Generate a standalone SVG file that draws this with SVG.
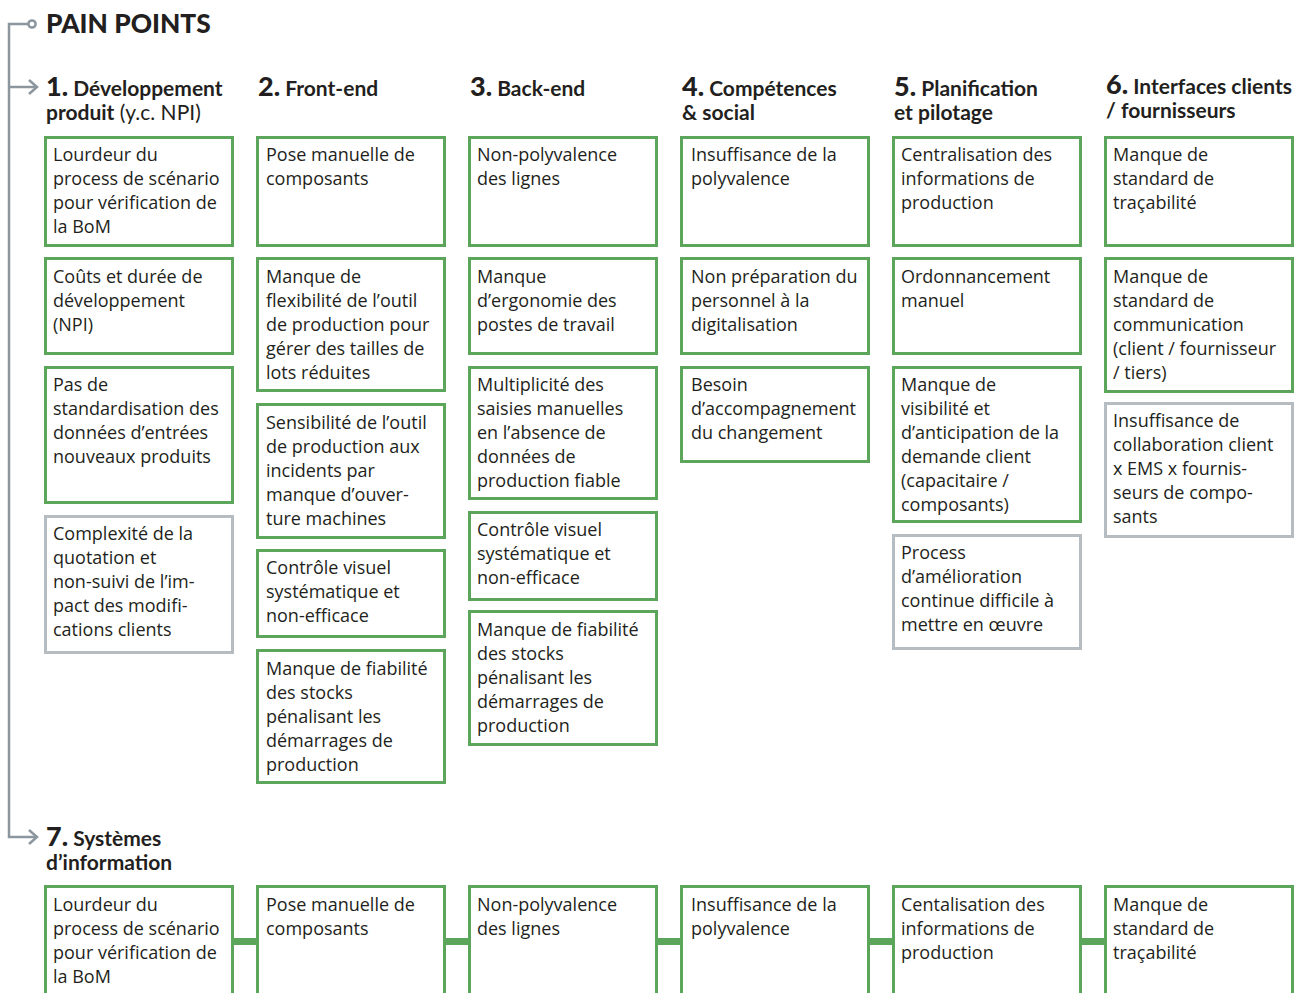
<svg xmlns="http://www.w3.org/2000/svg" width="1310" height="993" viewBox="0 0 1310 993">
<style>
.bg{fill:#ffffff}
.g{fill:#ffffff;stroke:#5ba65b;stroke-width:3}
.s{fill:#ffffff;stroke:#b5bcc2;stroke-width:3}
.t{font-family:"Open Sans","Noto Sans",sans-serif;font-size:18px;fill:#231f20}
.h{font-family:Lato,"Noto Sans",sans-serif;font-size:21px;font-weight:bold;fill:#231f20}
.n{font-size:27px;font-weight:900}
.r{font-weight:normal}
.ttl{font-family:Lato,"Noto Sans",sans-serif;font-size:26.3px;font-weight:900;fill:#231f20}
.ln{fill:none;stroke:#8c969e;stroke-width:2.5}
.bar{fill:#5ba65b}
</style>
<rect class="bg" x="0" y="0" width="1310" height="993"/>
<g id="tree">
<path class="ln" d="M28.5,24 H9 V837 H36"/>
<path class="ln" d="M9,87 H36"/>
<path class="ln" d="M29,80 L37,87 L29,94"/>
<path class="ln" d="M29,830 L37,837 L29,844"/>
<circle class="ln" cx="32" cy="24" r="3.6" fill="#fff"/>
</g>
<g id="title"><text class="ttl" x="46" y="33">PAIN POINTS</text></g>
<g id="headings">
<text class="h" x="46" y="96"><tspan class="n">1.</tspan> Développement</text>
<text class="h" x="46" y="120">produit<tspan class="r"> (y.c. NPI)</tspan></text>
<text class="h" x="258" y="96"><tspan class="n">2.</tspan> Front-end</text>
<text class="h" x="470" y="96"><tspan class="n">3.</tspan> Back-end</text>
<text class="h" x="682" y="96"><tspan class="n">4.</tspan> Compétences</text>
<text class="h" x="682" y="120">&amp; social</text>
<text class="h" x="894" y="96"><tspan class="n">5.</tspan> Planification</text>
<text class="h" x="894" y="120">et pilotage</text>
<text class="h" x="1106" y="94"><tspan class="n">6.</tspan> Interfaces clients</text>
<text class="h" x="1106" y="118">/ fournisseurs</text>
<text class="h" x="46" y="846"><tspan class="n">7.</tspan> Systèmes</text>
<text class="h" x="46" y="870">d’information</text>
</g>
<g id="connectors">
<rect class="bar" x="233" y="938" width="24" height="7"/>
<rect class="bar" x="445" y="938" width="24" height="7"/>
<rect class="bar" x="657" y="938" width="24" height="7"/>
<rect class="bar" x="869" y="938" width="24" height="7"/>
<rect class="bar" x="1081" y="938" width="24" height="7"/>
</g>
<!-- Column 1 -->
<g id="c1a"><rect class="g" x="45.5" y="137.5" width="187" height="108"/><text class="t" x="53" y="161"><tspan x="53">Lourdeur du</tspan><tspan x="53" dy="24">process de scénario</tspan><tspan x="53" dy="24">pour vérification de</tspan><tspan x="53" dy="24">la BoM</tspan></text></g>
<g id="c1b"><rect class="g" x="45.5" y="258.5" width="187" height="95"/><text class="t" x="53" y="283"><tspan x="53">Coûts et durée de</tspan><tspan x="53" dy="24">développement</tspan><tspan x="53" dy="24">(NPI)</tspan></text></g>
<g id="c1c"><rect class="g" x="45.5" y="367.5" width="187" height="135"/><text class="t" x="53" y="391"><tspan x="53">Pas de</tspan><tspan x="53" dy="24">standardisation des</tspan><tspan x="53" dy="24">données d’entrées</tspan><tspan x="53" dy="24">nouveaux produits</tspan></text></g>
<g id="c1d"><rect class="s" x="45.5" y="516.5" width="187" height="136"/><text class="t" x="53" y="540"><tspan x="53">Complexité de la</tspan><tspan x="53" dy="24">quotation et</tspan><tspan x="53" dy="24">non-suivi de l’im-</tspan><tspan x="53" dy="24">pact des modifi-</tspan><tspan x="53" dy="24">cations clients</tspan></text></g>
<!-- Column 2 -->
<g id="c2a"><rect class="g" x="257.5" y="137.5" width="187" height="108"/><text class="t" x="266" y="161"><tspan x="266">Pose manuelle de</tspan><tspan x="266" dy="24">composants</tspan></text></g>
<g id="c2b"><rect class="g" x="257.5" y="258.5" width="187" height="132"/><text class="t" x="266" y="283"><tspan x="266">Manque de</tspan><tspan x="266" dy="24">flexibilité de l’outil</tspan><tspan x="266" dy="24">de production pour</tspan><tspan x="266" dy="24">gérer des tailles de</tspan><tspan x="266" dy="24">lots réduites</tspan></text></g>
<g id="c2c"><rect class="g" x="257.5" y="404.5" width="187" height="133"/><text class="t" x="266" y="429"><tspan x="266">Sensibilité de l’outil</tspan><tspan x="266" dy="24">de production aux</tspan><tspan x="266" dy="24">incidents par</tspan><tspan x="266" dy="24">manque d’ouver-</tspan><tspan x="266" dy="24">ture machines</tspan></text></g>
<g id="c2d"><rect class="g" x="257.5" y="550.5" width="187" height="86"/><text class="t" x="266" y="574"><tspan x="266">Contrôle visuel</tspan><tspan x="266" dy="24">systématique et</tspan><tspan x="266" dy="24">non-efficace</tspan></text></g>
<g id="c2e"><rect class="g" x="257.5" y="650.5" width="187" height="132"/><text class="t" x="266" y="675"><tspan x="266">Manque de fiabilité</tspan><tspan x="266" dy="24">des stocks</tspan><tspan x="266" dy="24">pénalisant les</tspan><tspan x="266" dy="24">démarrages de</tspan><tspan x="266" dy="24">production</tspan></text></g>
<!-- Column 3 -->
<g id="c3a"><rect class="g" x="469.5" y="137.5" width="187" height="108"/><text class="t" x="477" y="161"><tspan x="477">Non-polyvalence</tspan><tspan x="477" dy="24">des lignes</tspan></text></g>
<g id="c3b"><rect class="g" x="469.5" y="258.5" width="187" height="95"/><text class="t" x="477" y="283"><tspan x="477">Manque</tspan><tspan x="477" dy="24">d’ergonomie des</tspan><tspan x="477" dy="24">postes de travail</tspan></text></g>
<g id="c3c"><rect class="g" x="469.5" y="367.5" width="187" height="131"/><text class="t" x="477" y="391"><tspan x="477">Multiplicité des</tspan><tspan x="477" dy="24">saisies manuelles</tspan><tspan x="477" dy="24">en l’absence de</tspan><tspan x="477" dy="24">données de</tspan><tspan x="477" dy="24">production fiable</tspan></text></g>
<g id="c3d"><rect class="g" x="469.5" y="512.5" width="187" height="87"/><text class="t" x="477" y="536"><tspan x="477">Contrôle visuel</tspan><tspan x="477" dy="24">systématique et</tspan><tspan x="477" dy="24">non-efficace</tspan></text></g>
<g id="c3e"><rect class="g" x="469.5" y="611.5" width="187" height="133"/><text class="t" x="477" y="636"><tspan x="477">Manque de fiabilité</tspan><tspan x="477" dy="24">des stocks</tspan><tspan x="477" dy="24">pénalisant les</tspan><tspan x="477" dy="24">démarrages de</tspan><tspan x="477" dy="24">production</tspan></text></g>
<!-- Column 4 -->
<g id="c4a"><rect class="g" x="681.5" y="137.5" width="187" height="108"/><text class="t" x="691" y="161"><tspan x="691">Insuffisance de la</tspan><tspan x="691" dy="24">polyvalence</tspan></text></g>
<g id="c4b"><rect class="g" x="681.5" y="258.5" width="187" height="95"/><text class="t" x="691" y="283"><tspan x="691">Non préparation du</tspan><tspan x="691" dy="24">personnel à la</tspan><tspan x="691" dy="24">digitalisation</tspan></text></g>
<g id="c4c"><rect class="g" x="681.5" y="367.5" width="187" height="94"/><text class="t" x="691" y="391"><tspan x="691">Besoin</tspan><tspan x="691" dy="24">d’accompagnement</tspan><tspan x="691" dy="24">du changement</tspan></text></g>
<!-- Column 5 -->
<g id="c5a"><rect class="g" x="893.5" y="137.5" width="187" height="108"/><text class="t" x="901" y="161"><tspan x="901">Centralisation des</tspan><tspan x="901" dy="24">informations de</tspan><tspan x="901" dy="24">production</tspan></text></g>
<g id="c5b"><rect class="g" x="893.5" y="258.5" width="187" height="95"/><text class="t" x="901" y="283"><tspan x="901">Ordonnancement</tspan><tspan x="901" dy="24">manuel</tspan></text></g>
<g id="c5c"><rect class="g" x="893.5" y="367.5" width="187" height="154"/><text class="t" x="901" y="391"><tspan x="901">Manque de</tspan><tspan x="901" dy="24">visibilité et</tspan><tspan x="901" dy="24">d’anticipation de la</tspan><tspan x="901" dy="24">demande client</tspan><tspan x="901" dy="24">(capacitaire /</tspan><tspan x="901" dy="24">composants)</tspan></text></g>
<g id="c5d"><rect class="s" x="893.5" y="535.5" width="187" height="113"/><text class="t" x="901" y="559"><tspan x="901">Process</tspan><tspan x="901" dy="24">d’amélioration</tspan><tspan x="901" dy="24">continue difficile à</tspan><tspan x="901" dy="24">mettre en œuvre</tspan></text></g>
<!-- Column 6 -->
<g id="c6a"><rect class="g" x="1105.5" y="137.5" width="187" height="108"/><text class="t" x="1113" y="161"><tspan x="1113">Manque de</tspan><tspan x="1113" dy="24">standard de</tspan><tspan x="1113" dy="24">traçabilité</tspan></text></g>
<g id="c6b"><rect class="g" x="1105.5" y="258.5" width="187" height="133"/><text class="t" x="1113" y="283"><tspan x="1113">Manque de</tspan><tspan x="1113" dy="24">standard de</tspan><tspan x="1113" dy="24">communication</tspan><tspan x="1113" dy="24">(client / fournisseur</tspan><tspan x="1113" dy="24">/ tiers)</tspan></text></g>
<g id="c6c"><rect class="s" x="1105.5" y="403.5" width="187" height="133"/><text class="t" x="1113" y="427"><tspan x="1113">Insuffisance de</tspan><tspan x="1113" dy="24">collaboration client</tspan><tspan x="1113" dy="24">x EMS x fournis-</tspan><tspan x="1113" dy="24">seurs de compo-</tspan><tspan x="1113" dy="24">sants</tspan></text></g>
<!-- Row 7 -->
<g id="r7a"><rect class="g" x="45.5" y="886.5" width="187" height="130"/><text class="t" x="53" y="911"><tspan x="53">Lourdeur du</tspan><tspan x="53" dy="24">process de scénario</tspan><tspan x="53" dy="24">pour vérification de</tspan><tspan x="53" dy="24">la BoM</tspan></text></g>
<g id="r7b"><rect class="g" x="257.5" y="886.5" width="187" height="130"/><text class="t" x="266" y="911"><tspan x="266">Pose manuelle de</tspan><tspan x="266" dy="24">composants</tspan></text></g>
<g id="r7c"><rect class="g" x="469.5" y="886.5" width="187" height="130"/><text class="t" x="477" y="911"><tspan x="477">Non-polyvalence</tspan><tspan x="477" dy="24">des lignes</tspan></text></g>
<g id="r7d"><rect class="g" x="681.5" y="886.5" width="187" height="130"/><text class="t" x="691" y="911"><tspan x="691">Insuffisance de la</tspan><tspan x="691" dy="24">polyvalence</tspan></text></g>
<g id="r7e"><rect class="g" x="893.5" y="886.5" width="187" height="130"/><text class="t" x="901" y="911"><tspan x="901">Centalisation des</tspan><tspan x="901" dy="24">informations de</tspan><tspan x="901" dy="24">production</tspan></text></g>
<g id="r7f"><rect class="g" x="1105.5" y="886.5" width="187" height="130"/><text class="t" x="1113" y="911"><tspan x="1113">Manque de</tspan><tspan x="1113" dy="24">standard de</tspan><tspan x="1113" dy="24">traçabilité</tspan></text></g>
</svg>
